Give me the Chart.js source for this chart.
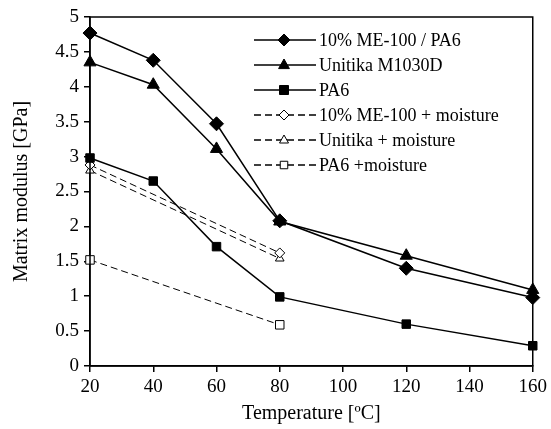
<!DOCTYPE html>
<html>
<head>
<meta charset="utf-8">
<script src="https://cdn.jsdelivr.net/npm/chart.js@4"></script>
<style>
  html, body { margin: 0; padding: 0; background: #fff; }
  #wrap { width: 551px; height: 429px; }
</style>
</head>
<body>
<div id="wrap"><canvas id="modulus_graph" width="551" height="429"></canvas></div>
<script>
// temperatures [C]
var temps = [20, 40, 60, 80, 120, 160];
var moistTemps = [20, 80];
// matrix modulus [GPa]
var me100 = [4.77, 4.38, 3.47, 2.08, 1.40, 0.98];
var unitika = [4.35, 4.03, 3.11, 2.07, 1.58, 1.09];
var pa6 = [2.98, 2.65, 1.71, 0.99, 0.60, 0.29];
var me100Moist = [2.88, 1.62];
var unitikaMoist = [2.80, 1.54];
var pa6Moist = [1.52, 0.59];
var labels = [
    "10% ME-100 / PA6",
    "Unitika M1030D",
    "PA6",
    "10% ME-100 + moisture",
    "Unitika + moisture",
    "PA6 +moisture"
];

function pts(xs, ys) {
    return xs.map(function (x, i) { return { x: x, y: ys[i] }; });
}

function series(label, xs, ys, style, open) {
    var r = style === 'rect' ? 6 : 7;
    if (open) r = style === 'rect' ? 6 : 5;
    return {
        label: label,
        data: pts(xs, ys),
        borderColor: "#000",
        borderWidth: open ? 1 : 1.5,
        borderDash: open ? [7, 4] : [],
        pointStyle: style,
        pointRadius: r,
        pointBackgroundColor: open ? "#fff" : "#000",
        pointBorderColor: "#000",
        pointBorderWidth: 1,
        fill: false,
        clip: false,
        tension: 0
    };
}

var datasets = [
    series(labels[0], temps, me100, 'rectRot', false),
    series(labels[1], temps, unitika, 'triangle', false),
    series(labels[2], temps, pa6, 'rect', false),
    series(labels[3], moistTemps, me100Moist, 'rectRot', true),
    series(labels[4], moistTemps, unitikaMoist, 'triangle', true),
    series(labels[5], moistTemps, pa6Moist, 'rect', true)
];
// draw solid series on top
datasets.forEach(function (d, i) { d.order = i < 3 ? 0 : 1; });

function marker(ctx, style, x, y, r, open) {
    ctx.save();
    ctx.beginPath();
    if (style === 'rectRot') {
        ctx.moveTo(x, y - r); ctx.lineTo(x + r, y); ctx.lineTo(x, y + r); ctx.lineTo(x - r, y);
    } else if (style === 'triangle') {
        ctx.moveTo(x, y - r); ctx.lineTo(x + r * 0.9, y + r * 0.6); ctx.lineTo(x - r * 0.9, y + r * 0.6);
    } else {
        ctx.rect(x - r * 0.75, y - r * 0.75, r * 1.5, r * 1.5);
    }
    ctx.closePath();
    ctx.fillStyle = open ? "#fff" : "#000";
    ctx.fill();
    ctx.lineWidth = 1;
    ctx.strokeStyle = "#000";
    ctx.stroke();
    ctx.restore();
}

var frameAndLegend = {
    id: 'frameAndLegend',
    afterDraw: function (chart) {
        var ctx = chart.ctx, a = chart.chartArea;
        ctx.save();
        ctx.strokeStyle = "#000";
        ctx.lineWidth = 1.5;
        ctx.strokeRect(a.left, a.top, a.right - a.left, a.bottom - a.top);
        ctx.font = "18px 'Liberation Serif'";
        ctx.textBaseline = "middle";
        ctx.fillStyle = "#000";
        chart.data.datasets.forEach(function (d, i) {
            var y = 40 + i * 25;
            var open = i >= 3;
            ctx.beginPath();
            ctx.lineWidth = 1.5;
            ctx.setLineDash(open ? [7, 4] : []);
            ctx.moveTo(254, y);
            ctx.lineTo(316, y);
            ctx.stroke();
            ctx.setLineDash([]);
            marker(ctx, d.pointStyle, 284, y, open ? 5 : 6, open);
            ctx.fillText(d.label, 319, y + 1);
        });
        ctx.restore();
    }
};

function plain(v) { return String(Number(v.toFixed(2))); }

var config = {
    type: 'line',
    data: { datasets: datasets },
    options: {
        responsive: false,
        animation: false,
        layout: { padding: { top: 17, right: 17, left: 0, bottom: 0 } },
        plugins: {
            legend: { display: false },
            tooltip: { enabled: false }
        },
        scales: {
            x: {
                type: 'linear',
                min: 20,
                max: 160,
                afterFit: function (s) { s.height = 63; },
                ticks: {
                    stepSize: 20,
                    color: "#000",
                    padding: 4,
                    callback: plain,
                    font: { family: "'Liberation Serif'", size: 19 }
                },
                grid: { drawOnChartArea: false, tickLength: 6, color: "#000", lineWidth: 1.5 },
                border: { color: "#000", width: 1.5 },
                title: {
                    display: true,
                    text: "Temperature [ºC]",
                    color: "#000",
                    padding: { top: 0, bottom: 3 },
                    font: { family: "'Liberation Serif'", size: 20 }
                }
            },
            y: {
                min: 0,
                max: 5,
                afterFit: function (s) { s.width = 90; },
                ticks: {
                    stepSize: 0.5,
                    color: "#000",
                    padding: 5,
                    callback: plain,
                    font: { family: "'Liberation Serif'", size: 19 }
                },
                grid: { drawOnChartArea: false, tickLength: 6, color: "#000", lineWidth: 1.5 },
                border: { color: "#000", width: 1.5 },
                title: {
                    display: true,
                    text: "Matrix modulus [GPa]",
                    color: "#000",
                    padding: { top: 10, bottom: 0 },
                    font: { family: "'Liberation Serif'", size: 20 }
                }
            }
        }
    },
    plugins: [frameAndLegend]
};

var ctx = document.getElementById("modulus_graph").getContext("2d");
new Chart(ctx, config);
</script>
</body>
</html>
